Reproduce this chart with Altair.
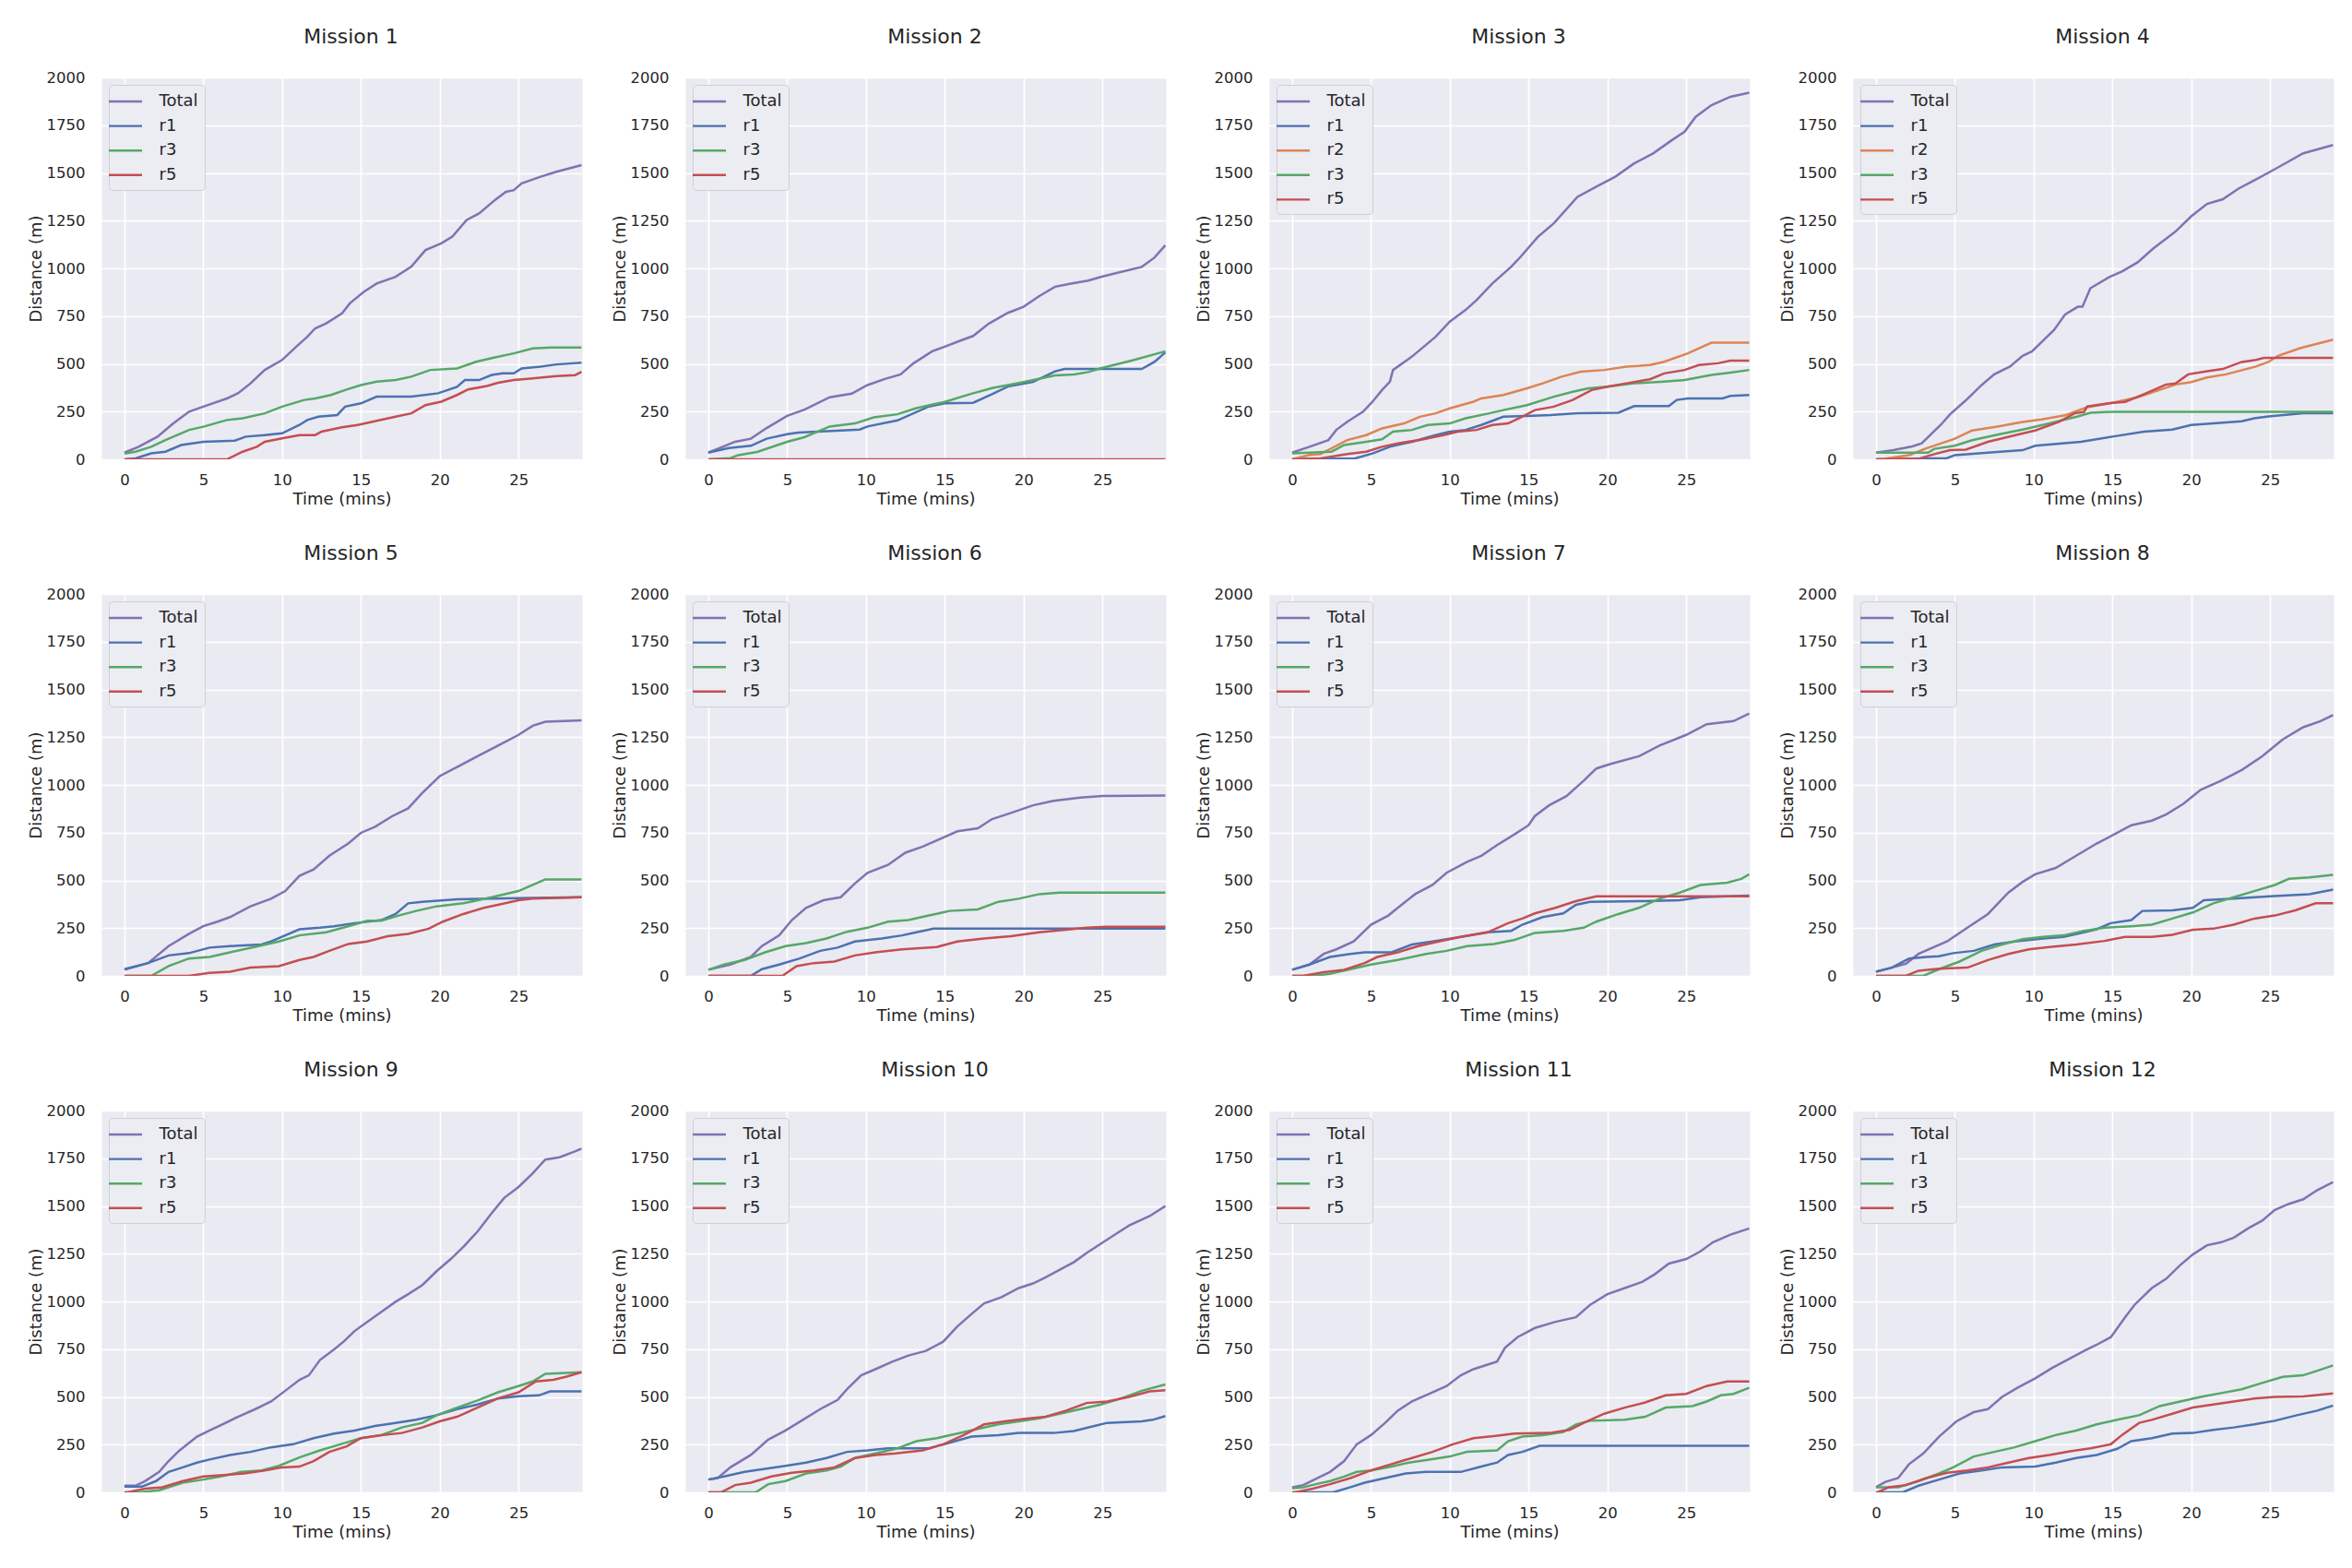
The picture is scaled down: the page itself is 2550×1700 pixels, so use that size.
import altair as alt
import pandas as pd

# ---------------- data (time in minutes, distance in metres) ----------------
M1_TOTAL = [(0,35),(0.9,66),(2.1,119),(3.1,188),(4.1,250),(5,276),(6.5,319),(7.2,346),(8,398),(8.9,468),(10,520),(10.9,590),(11.6,642),(12.1,686),(12.8,712),(13.8,764),(14.3,817),(15.2,878),(16,921),(17.2,956),(18.2,1009),(19.1,1096),(20.1,1131),(20.8,1166),(21.7,1253),(22.5,1288),(23.5,1358),(24.2,1401),(24.7,1410),(25.2,1445),(26.4,1480),(27.4,1506),(29,1541)]
M1_R1 = [(0,0),(0.7,5),(1.7,31),(2.6,40),(3.6,75),(5,92),(7,98),(7.7,119),(8.9,127),(10,136),(11.1,180),(11.6,206),(12.3,223),(13.5,232),(14,276),(15,293),(16,328),(18.2,328),(19.9,346),(21.1,380),(21.6,415),(22.5,415),(23.3,442),(24,450),(24.7,450),(25.2,476),(26.4,485),(27.4,497),(29,506)]
M1_R3 = [(0,30),(0.7,40),(1.7,66),(2.6,101),(4.1,154),(5,171),(6.5,206),(7.5,215),(8.9,241),(10,276),(11.4,311),(12.1,319),(13.1,337),(14,363),(15,389),(16,407),(17.2,415),(18.2,433),(19.4,468),(21.1,476),(22.3,511),(23.5,534),(24.7,555),(25.9,581),(27.1,586),(29,586)]
M1_R5 = [(0,0),(6.5,0),(7.5,40),(8.4,66),(8.9,92),(10,110),(11.1,127),(12.1,127),(12.5,145),(13.8,168),(14.8,180),(16,202),(17.2,223),(18.2,241),(19.1,284),(20.1,302),(21.1,337),(21.8,366),(23,384),(23.7,401),(24.7,415),(25.9,424),(27.4,436),(28.6,441),(29,459)]

M2_TOTAL = [(0,35),(1.7,92),(2.7,108),(3.7,164),(5,228),(6.1,260),(7.7,325),(9.1,344),(10.1,389),(11.2,421),(12.2,445),(13,502),(14.2,566),(15,590),(16,622),(16.8,646),(17.8,711),(19,767),(20,799),(21,855),(22,904),(23,920),(24.1,936),(24.9,955),(25.9,976),(27.5,1008),(28.3,1056),(29,1121)]
M2_R1 = [(0,35),(1.3,59),(2.7,71),(3.7,108),(5,132),(5.7,140),(9.6,156),(10.1,172),(12,204),(14,277),(15,293),(16.8,296),(18,341),(19,381),(20.6,405),(22,461),(22.6,473),(27.5,473),(28.3,510),(29,560)]
M2_R3 = [(0,0),(1.4,6),(1.9,22),(3.1,39),(5,92),(6.1,116),(7.7,172),(9.3,188),(10.5,220),(12,236),(13.2,268),(15,301),(16.6,341),(18,373),(20,405),(22,440),(23.2,445),(24.1,457),(24.9,477),(26.9,518),(29,566)]
M2_R5 = [(0,0),(29,0)]

M3_TOTAL = [(0,35),(1.1,66),(2.3,101),(2.8,154),(3.5,197),(4.5,250),(5.1,302),(5.7,363),(6.2,407),(6.4,468),(7.6,538),(9.1,642),(10,721),(11,782),(11.7,834),(12.7,921),(13.9,1009),(14.4,1052),(15.6,1166),(16.6,1236),(18.1,1375),(19.3,1428),(20.5,1480),(21.7,1550),(22.9,1602),(24.1,1672),(24.9,1716),(25.6,1794),(26.6,1855),(27.8,1899),(29,1920)]
M3_R1 = [(0,0),(4,5),(5.1,31),(6.2,66),(7.6,92),(9.1,127),(10,145),(11,154),(12,180),(13.4,223),(14.9,227),(16.4,232),(18.1,241),(20.7,244),(21.7,279),(23.9,279),(24.4,311),(25.1,319),(27.3,319),(27.8,332),(29,337)]
M3_R2 = [(0,0),(1.1,23),(1.8,28),(2.5,58),(3.5,101),(4.7,127),(5.7,162),(7.1,188),(8.1,223),(9.1,241),(10,267),(11.5,302),(12,319),(13.4,337),(14.9,372),(15.9,398),(17.1,433),(18.3,459),(19.8,468),(21.2,485),(22.7,494),(23.6,511),(25.1,555),(26.6,611),(29,611)]
M3_R3 = [(0,31),(2.5,40),(3.3,75),(4.7,92),(5.7,105),(6.4,145),(7.6,154),(8.6,180),(10,188),(11,215),(12.5,241),(13.4,258),(14.9,284),(16.6,328),(17.8,354),(18.8,372),(20,380),(21.7,398),(23.6,407),(24.9,415),(26.6,442),(27.8,454),(29,468)]
M3_R5 = [(0,0),(1.8,5),(3.5,28),(4.7,40),(5.7,66),(6.7,84),(8.1,101),(9.6,127),(10.5,145),(11.7,154),(12.7,180),(13.7,188),(14.4,215),(15.4,258),(16.6,276),(17.8,311),(19,363),(20,380),(21.2,398),(22.7,419),(23.6,450),(24.9,468),(25.8,494),(27,503),(27.8,517),(29,517)]

M4_TOTAL = [(0,35),(1.1,48),(2.3,68),(2.9,84),(3.5,132),(4.1,180),(4.7,236),(5.7,309),(6.7,389),(7.5,445),(8.5,486),(9.3,542),(9.9,566),(10.7,630),(11.3,678),(12,759),(12.8,799),(13.1,799),(13.6,896),(14.8,955),(15.6,984),(16.6,1032),(17.6,1105),(19,1193),(20,1273),(21,1338),(22,1362),(23,1418),(24.1,1466),(25,1506),(25.9,1547),(27.1,1603),(29,1646)]
M4_R1 = [(0,0),(4.5,6),(5,22),(7.1,35),(9.3,48),(10.1,71),(13,92),(15,119),(17,145),(18.8,156),(20,180),(23.2,199),(24,215),(24.9,225),(27.1,241),(29,241)]
M4_R2 = [(0,0),(0.3,0),(2.1,22),(3.1,55),(5,108),(6.1,151),(7.7,172),(9.3,196),(10.5,209),(12,231),(13.4,273),(15,296),(16.6,325),(19,392),(20,405),(21,429),(22.2,445),(24.1,486),(24.9,510),(25.5,542),(26.9,582),(29,627)]
M4_R3 = [(0,35),(3.3,35),(3.7,55),(5,71),(6.1,100),(7.7,129),(9.3,156),(11,188),(12.8,225),(13.6,244),(15,249),(29,249)]
M4_R5 = [(0,0),(2.7,3),(3.7,27),(4.7,48),(5.7,51),(7.1,92),(9.1,132),(10.1,151),(11.6,196),(12.6,241),(13.2,248),(13.4,277),(15,296),(15.8,301),(17,341),(18.4,392),(19,397),(19.8,445),(21,461),(22,473),(23.2,510),(24.1,521),(24.6,531),(29,531)]

M5_TOTAL = [(0,32),(1.5,67),(2.8,156),(4.1,220),(5,260),(5.9,284),(6.7,308),(8,364),(9.3,404),(10.2,444),(11.1,524),(12,557),(13,629),(14.2,693),(15,749),(15.9,781),(17,837),(18,877),(18.9,958),(20,1046),(21.1,1094),(22.4,1150),(23.7,1206),(25,1262),(25.9,1310),(26.7,1331),(29,1338)]
M5_R1 = [(0,35),(1.5,67),(2.8,107),(4.1,119),(5.4,148),(6.7,156),(8.7,164),(9.3,180),(11.1,244),(12.4,252),(13.3,260),(14.6,276),(16.3,292),(17.2,324),(18,380),(18.9,388),(21.1,401),(25,407),(29,412)]
M5_R3 = [(0,0),(1.7,0),(2.8,51),(4.1,91),(5.4,99),(6.7,123),(8.5,156),(9.8,180),(11.1,212),(12.8,228),(14.2,260),(15.4,289),(16.3,289),(17.4,316),(18.5,340),(19.8,364),(21.5,380),(23.3,412),(25,444),(25.9,476),(26.7,505),(29,505)]
M5_R5 = [(0,0),(4.1,0),(5.4,16),(6.7,22),(8,43),(9.8,51),(11.1,83),(12,99),(13,131),(14.2,167),(15.4,180),(16.7,208),(18,220),(19.3,247),(20.2,284),(21.5,324),(22.8,356),(23.7,372),(25,396),(25.9,404),(29,412)]

M6_TOTAL = [(0,32),(1.4,59),(2.7,99),(3.4,156),(4.5,212),(5.3,292),(6.2,356),(7.3,396),(8.4,412),(9.3,484),(10.1,540),(11.4,581),(12.5,645),(13.6,677),(14.7,717),(15.8,757),(17.1,773),(18,821),(19.2,853),(20.6,893),(21.9,917),(23.6,934),(25,942),(29,945)]
M6_R1 = [(0,0),(2.7,0),(3.4,35),(4.5,59),(5.8,91),(7.1,131),(8.2,148),(9.3,180),(11,196),(12.3,212),(13.2,228),(14.3,247),(29,247)]
M6_R3 = [(0,32),(1,59),(2.3,83),(3.6,123),(4.9,156),(6.2,172),(7.5,196),(8.8,231),(10.1,252),(11.4,284),(12.7,292),(14,316),(15.3,340),(17.1,348),(18.4,388),(19.7,404),(21,428),(22.3,436),(29,436)]
M6_R5 = [(0,0),(4.7,0),(5.6,51),(6.7,67),(8,75),(9.3,107),(10.6,123),(12.3,139),(14.5,151),(15.8,180),(17.5,196),(19.2,208),(21,228),(22.7,241),(24,252),(25.3,257),(29,257)]

M7_TOTAL = [(0,32),(1.1,59),(2,115),(2.8,139),(3.9,180),(5,268),(6.1,316),(6.7,356),(7.8,428),(8.9,476),(9.8,540),(11.1,597),(12,629),(13,685),(14.1,741),(15,789),(15.4,837),(16.3,893),(17.4,941),(18.5,1022),(19.3,1086),(20.2,1110),(22,1150),(23.3,1206),(25,1262),(26.3,1318),(28,1334),(29,1374)]
M7_R1 = [(0,32),(1.1,59),(2.4,99),(3.7,115),(4.6,123),(6.3,123),(7.6,164),(8.9,180),(10.7,204),(12.4,228),(13.9,236),(14.6,268),(15.9,308),(17.2,327),(18,372),(18.9,388),(22.4,391),(24.6,396),(25.9,412),(29,420)]
M7_R3 = [(0,0),(1.3,0),(2.4,11),(3.7,35),(5,59),(6.7,83),(8.5,115),(9.8,131),(11.1,156),(12.8,167),(14.1,188),(15.4,225),(17.2,236),(18.5,252),(19.3,284),(20.7,324),(22,356),(23.3,404),(24.6,436),(25.9,476),(27.6,488),(28.5,508),(29,532)]
M7_R5 = [(0,0),(0.7,0),(2,19),(3.3,32),(4.6,67),(5.4,99),(6.7,123),(8,156),(9.3,180),(10.7,204),(12.4,228),(13.7,276),(14.6,300),(15.4,327),(16.7,356),(18,391),(19.3,417),(29,417)]

M8_TOTAL = [(0,22),(1,43),(1.9,64),(2.7,115),(4.5,180),(5.8,252),(7.1,324),(8.4,436),(9.3,492),(10.1,532),(11.4,565),(12.7,629),(14,693),(15.3,749),(16.2,789),(17.5,813),(18.4,845),(19.5,901),(20.6,974),(21.9,1022),(23.2,1078),(24.5,1150),(25.8,1238),(27.1,1302),(28.2,1334),(29,1366)]
M8_R1 = [(0,22),(1,43),(2.1,91),(3.2,99),(4,103),(4.9,119),(6.2,131),(7.5,164),(8.8,180),(10.6,196),(11.9,204),(13.2,228),(14,244),(14.9,276),(16.2,292),(16.9,340),(18.8,343),(20.1,356),(20.8,396),(22.7,404),(25,417),(27.5,428),(29,452)]
M8_R3 = [(0,0),(3,0),(4,35),(5.3,75),(6.7,131),(8,164),(9.3,192),(10.6,204),(11.9,212),(13.2,236),(14.5,252),(16.2,260),(17.5,268),(18.8,300),(20.1,332),(21.4,380),(22.7,412),(24,444),(25.3,476),(26.2,508),(27.5,516),(29,529)]
M8_R5 = [(0,0),(1.9,0),(2.7,27),(4,38),(5.8,43),(7.1,83),(8.4,115),(9.7,139),(11,151),(12.7,164),(14.5,183),(15.8,204),(17.5,204),(18.8,215),(20.1,241),(21.4,247),(22.7,268),(24,300),(25.3,316),(26.6,343),(27.9,380),(29,380)]

M9_TOTAL = [(0,35),(0.7,35),(1.3,59),(2.2,107),(2.8,164),(3.5,220),(4.6,292),(5.4,324),(6.3,359),(7.2,396),(8.3,436),(9.3,476),(10.2,532),(11.1,589),(11.7,613),(12.4,693),(13.3,749),(13.9,789),(14.6,845),(15.4,893),(16.1,934),(17.2,998),(18,1038),(18.9,1086),(19.8,1158),(20.7,1222),(21.5,1286),(22.4,1366),(23.3,1463),(24.1,1543),(25,1599),(25.9,1671),(26.7,1743),(27.6,1755),(28.5,1783),(29,1800)]
M9_R1 = [(0,30),(1.1,30),(2,59),(2.8,107),(3.7,131),(4.6,156),(5.4,172),(6.7,196),(8,212),(9.3,236),(10.7,252),(12,284),(13.3,308),(14.6,324),(15.9,348),(17.2,364),(18.5,380),(19.8,404),(21.1,436),(22.4,460),(23.7,492),(25,504),(26.3,508),(27,529),(29,529)]
M9_R3 = [(0,0),(0.9,0),(2.2,11),(3.7,51),(5,67),(6.1,83),(7.4,107),(8.7,115),(9.8,139),(11.1,183),(12.4,220),(13.7,252),(15,284),(16.3,300),(17.6,340),(18.9,364),(19.8,404),(21.1,444),(22.4,481),(23.7,524),(25,557),(25.9,581),(26.7,621),(29,629)]
M9_R5 = [(0,0),(0.2,0),(1.3,19),(2.4,27),(3.7,59),(5,83),(6.3,91),(7.6,99),(8.9,115),(10,131),(11.1,135),(12,164),(13,212),(14.1,241),(15,284),(16.3,300),(17.6,311),(18.9,340),(20,372),(21.1,396),(22.4,444),(23.7,492),(25,524),(26.1,581),(27.2,589),(28,605),(29,629)]

M10_TOTAL = [(0,67),(0.6,75),(1.4,131),(2.7,196),(3.8,276),(4.9,324),(6,380),(7.1,436),(8.2,484),(8.8,540),(9.7,613),(10.6,645),(11.7,685),(12.7,717),(13.8,741),(14.9,789),(15.8,869),(16.7,934),(17.5,990),(18.6,1022),(19.7,1070),(20.6,1094),(21.4,1126),(22.3,1166),(23.2,1206),(24,1254),(24.9,1302),(25.8,1350),(26.7,1398),(28,1447),(29,1500)]
M10_R1 = [(0,67),(1,83),(2.3,107),(3.6,123),(4.9,139),(6.2,156),(7.5,180),(8.8,212),(10.1,220),(11.4,231),(14,231),(15.3,260),(16.7,292),(18.4,300),(19.7,311),(21.9,311),(23.2,321),(24.5,348),(25.3,364),(27.5,372),(28.2,380),(29,400)]
M10_R3 = [(0,0),(3,0),(3.8,43),(4.9,59),(6.2,99),(7.5,115),(8.4,135),(9.3,180),(10.6,204),(11.9,228),(13.2,268),(14.5,284),(15.8,308),(17.1,332),(18.4,356),(19.7,372),(21,388),(22.3,412),(23.6,436),(24.9,460),(26.2,492),(27.5,532),(29,565)]
M10_R5 = [(0,0),(0.8,0),(1.7,38),(2.7,51),(4,83),(5.3,103),(6.7,115),(8,131),(9.3,180),(10.6,196),(11.9,204),(13.6,220),(14.9,252),(16.2,300),(17.5,356),(18.8,372),(20.1,385),(21.4,396),(22.7,428),(24,468),(25.3,476),(26.7,500),(28,529),(29,535)]

M11_TOTAL = [(0,27),(0.7,38),(1.5,71),(2.4,107),(3.3,164),(4.1,252),(5,300),(5.9,364),(6.7,428),(7.6,476),(8.7,516),(9.8,557),(10.7,613),(11.5,645),(12.4,669),(13,685),(13.5,757),(14.3,813),(15.4,861),(16.7,893),(18,917),(18.9,982),(20,1038),(21.1,1070),(22.2,1102),(23,1142),(23.9,1198),(25,1222),(25.9,1262),(26.7,1310),(27.8,1350),(29,1382)]
M11_R1 = [(0,0),(2.6,0),(3.7,27),(4.6,51),(5.9,75),(7.2,99),(8.5,107),(10.7,107),(12,135),(13,156),(13.7,196),(14.6,212),(15.7,244),(29,244)]
M11_R3 = [(0,22),(0.7,27),(1.5,43),(2.4,59),(3.3,83),(4.1,107),(5,115),(6.3,135),(7.4,156),(8.7,172),(10,188),(11.1,212),(13,220),(13.7,268),(14.6,292),(15.9,300),(17.2,316),(18,356),(18.9,375),(21.1,380),(22.4,396),(23.7,444),(25.4,452),(26.3,476),(27.2,508),(28,516),(29,548)]
M11_R5 = [(0,0),(0.2,0),(1.3,19),(2.4,43),(3.7,75),(5,115),(6.3,148),(7.6,180),(8.9,212),(10.2,252),(11.5,284),(12.8,295),(14.1,308),(16.3,311),(17.6,327),(18.5,364),(19.8,412),(21.1,444),(22.4,471),(23.7,508),(25,516),(26.3,557),(27.6,581),(29,581)]

M12_TOTAL = [(0,27),(0.6,55),(1.4,75),(2.1,148),(3,204),(4,292),(5.1,372),(6.2,420),(7.1,436),(8,500),(9,549),(10.1,597),(11.2,653),(12.3,701),(13.2,741),(14,773),(14.9,813),(15.8,917),(16.4,982),(17.5,1070),(18.4,1118),(19.3,1190),(20.1,1246),(21,1294),(21.9,1310),(22.7,1334),(23.6,1382),(24.5,1423),(25.3,1479),(26.2,1511),(27.1,1535),(28,1583),(29,1625)]
M12_R1 = [(0,0),(1.7,0),(2.7,35),(4,67),(5.3,99),(6.7,115),(8,131),(10.1,135),(11.4,156),(12.7,180),(14,196),(15.3,228),(16.2,268),(17.5,284),(18.8,308),(20.1,311),(21.4,327),(22.7,340),(24,356),(25.3,375),(26.7,404),(28,428),(29,455)]
M12_R3 = [(0,27),(1.4,27),(2.7,59),(4,99),(4.9,131),(6.2,188),(7.5,212),(8.8,236),(10.1,268),(11.4,300),(12.7,324),(14,356),(15.3,380),(16.7,404),(18,452),(19.3,476),(20.6,500),(21.9,520),(23.2,540),(24.5,573),(25.8,605),(27.1,613),(28,637),(29,665)]
M12_R5 = [(0,0),(0.1,0),(0.8,27),(1.9,38),(3.2,75),(4.5,103),(5.8,115),(7.1,131),(8.4,156),(9.7,180),(11,196),(12.3,215),(13.6,231),(14.9,252),(15.6,300),(16.7,364),(17.5,380),(18.8,412),(20.1,444),(21.4,460),(22.7,476),(24,492),(25.3,500),(27.1,503),(29,518)]

MISSIONS = [
    ("Mission 1", {"Total": M1_TOTAL, "r1": M1_R1, "r3": M1_R3, "r5": M1_R5}),
    ("Mission 2", {"Total": M2_TOTAL, "r1": M2_R1, "r3": M2_R3, "r5": M2_R5}),
    ("Mission 3", {"Total": M3_TOTAL, "r1": M3_R1, "r2": M3_R2, "r3": M3_R3, "r5": M3_R5}),
    ("Mission 4", {"Total": M4_TOTAL, "r1": M4_R1, "r2": M4_R2, "r3": M4_R3, "r5": M4_R5}),
    ("Mission 5", {"Total": M5_TOTAL, "r1": M5_R1, "r3": M5_R3, "r5": M5_R5}),
    ("Mission 6", {"Total": M6_TOTAL, "r1": M6_R1, "r3": M6_R3, "r5": M6_R5}),
    ("Mission 7", {"Total": M7_TOTAL, "r1": M7_R1, "r3": M7_R3, "r5": M7_R5}),
    ("Mission 8", {"Total": M8_TOTAL, "r1": M8_R1, "r3": M8_R3, "r5": M8_R5}),
    ("Mission 9", {"Total": M9_TOTAL, "r1": M9_R1, "r3": M9_R3, "r5": M9_R5}),
    ("Mission 10", {"Total": M10_TOTAL, "r1": M10_R1, "r3": M10_R3, "r5": M10_R5}),
    ("Mission 11", {"Total": M11_TOTAL, "r1": M11_R1, "r3": M11_R3, "r5": M11_R5}),
    ("Mission 12", {"Total": M12_TOTAL, "r1": M12_R1, "r3": M12_R3, "r5": M12_R5}),
]

SERIES_ORDER = ["Total", "r1", "r2", "r3", "r5"]
COLORS = {"Total": "#8172B3", "r1": "#4C72B0", "r2": "#DD8452", "r3": "#55A868", "r5": "#C44E52"}
X_TICKS = [0, 5, 10, 15, 20, 25]
Y_TICKS = [0, 250, 500, 750, 1000, 1250, 1500, 1750, 2000]
X_DOMAIN = [-1.46, 29.03]
Y_DOMAIN = [0, 2000]

FONT = "DejaVu Sans"
TEXT = "#262626"


def panel(title, series):
    rows = []
    for name in SERIES_ORDER:
        if name in series:
            for t, d in series[name]:
                rows.append({"t": t, "d": d, "s": name})
    df = pd.DataFrame(rows)
    order = [n for n in SERIES_ORDER if n in series]
    return (
        alt.Chart(df, title=alt.TitleParams(title))
        .mark_line(strokeWidth=2.5, clip=True)
        .encode(
            x=alt.X("t:Q", scale=alt.Scale(domain=X_DOMAIN, nice=False, zero=False),
                    axis=alt.Axis(values=X_TICKS, title="Time (mins)", format="d")),
            y=alt.Y("d:Q", scale=alt.Scale(domain=Y_DOMAIN, nice=False),
                    axis=alt.Axis(values=Y_TICKS, title="Distance (m)", format="d")),
            color=alt.Color("s:N",
                            scale=alt.Scale(domain=order, range=[COLORS[n] for n in order]),
                            legend=alt.Legend(title=None, orient="top-left")),
        )
        .properties(width=521, height=414)
    )


charts = [panel(t, s) for t, s in MISSIONS]
rows = []
for r in range(3):
    row = (alt.hconcat(*charts[r * 4:(r + 1) * 4], spacing=30)
           .resolve_scale(color="independent")
           .resolve_legend(color="independent"))
    rows.append(row)

chart = (
    alt.vconcat(*rows, spacing=37)
    .resolve_scale(color="independent")
    .resolve_legend(color="independent")
    .properties(padding={"left": 21, "top": 20, "right": 5, "bottom": 5}, background="white")
    .configure_view(fill="#EAEAF2", stroke="transparent")
    .configure_axis(
        grid=True, gridColor="white", gridWidth=1.7, gridOpacity=1,
        domain=False, ticks=False, tickSize=0,
        labelFont=FONT, labelFontSize=16.5, labelColor=TEXT,
        titleFont=FONT, titleFontSize=18, titleFontWeight="normal", titleColor=TEXT,
    )
    .configure_axisX(labelPadding=14, titlePadding=4)
    .configure_axisY(labelPadding=18, titlePadding=2)
    .configure_legend(
        offset=8, padding=6.5, rowPadding=5.6,
        fillColor="#ECECF3", strokeColor="#CFCFD6", cornerRadius=4,
        symbolType="M-1.8,0H1.8", symbolSize=400, symbolStrokeWidth=2.4,
        labelFont=FONT, labelFontSize=18, labelColor=TEXT, labelOffset=25,
    )
    .configure_title(font=FONT, fontSize=22, fontWeight="normal", color=TEXT,
                     anchor="middle", baseline="alphabetic", offset=24, dx=10)
)

chart.save("out.html", embed_options={"renderer": "svg", "actions": False})
